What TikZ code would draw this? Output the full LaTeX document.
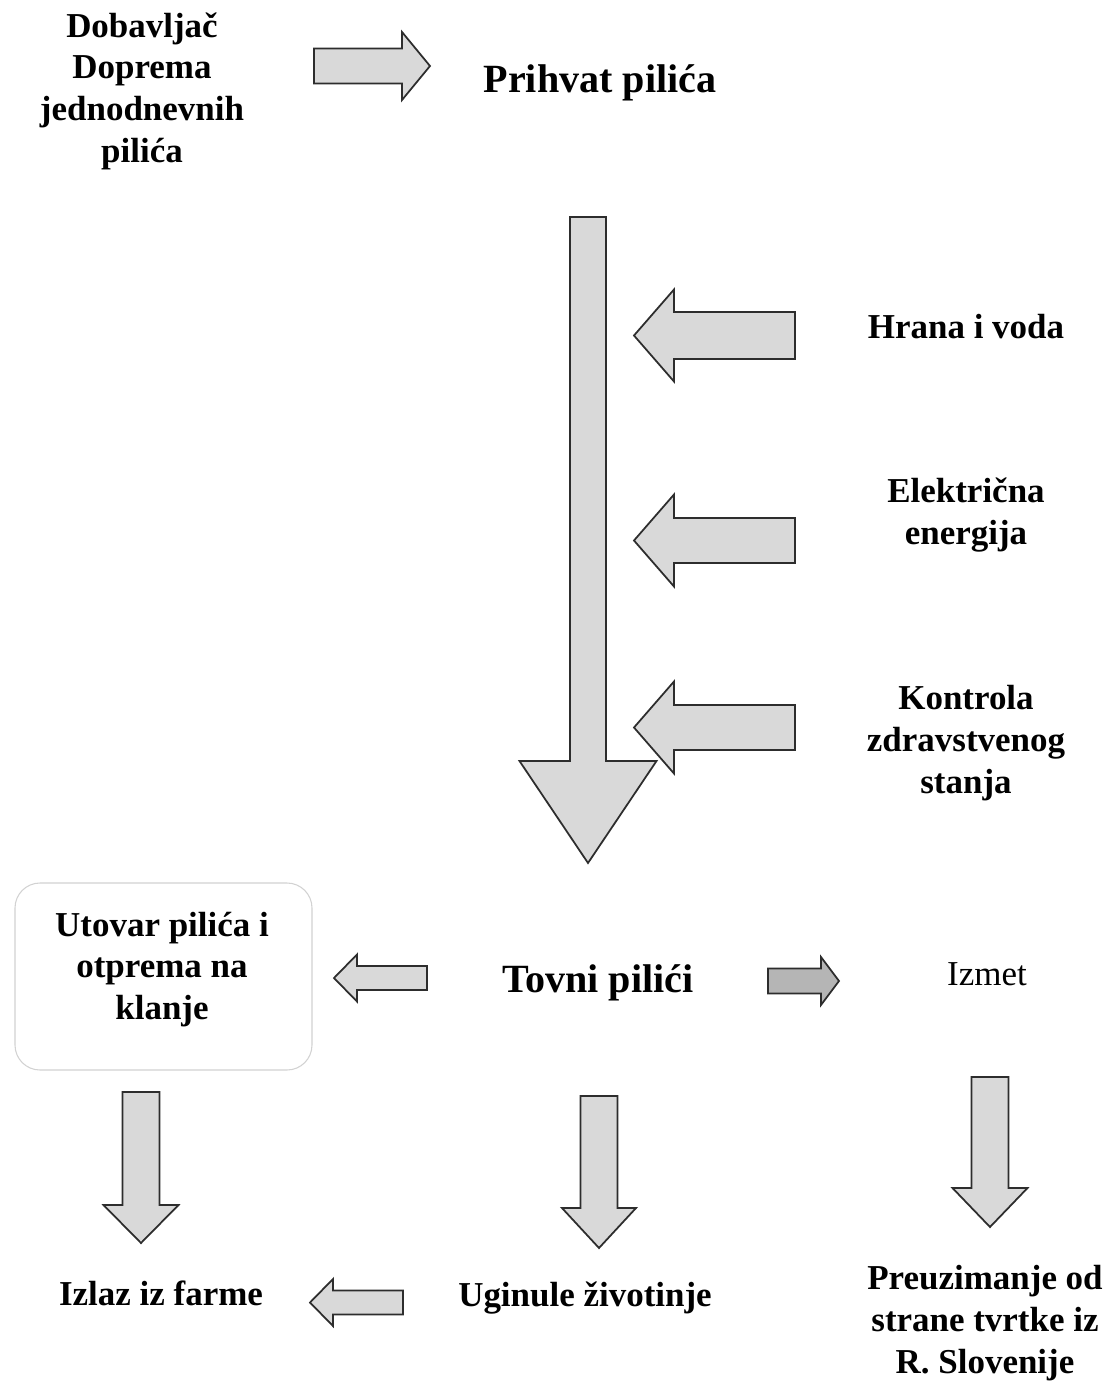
\documentclass[tikz,border=0pt]{standalone}
\usepackage{fontspec}
\setmainfont{Liberation Serif}
\usepackage{tikz}
\newcommand{\flowUnit}{0.02cm}
% block arrow: [style] tail, angle, length, shaft half width, head half width, head length
\newcommand{\blockArrow}[7][]{%
  \draw[blockArrow,#1,shift={#2},rotate=#3] (0,-#5) -- ({#4-#7},-#5) -- ({#4-#7},-#6) -- (#4,0)
     -- ({#4-#7},#6) -- ({#4-#7},#5) -- (0,#5) -- cycle;}
\tikzset{
  stepText/.style={font=\fontsize{19.9}{23.7}\selectfont\bfseries, align=center, inner sep=0pt},
  mainText/.style={font=\fontsize{22.8}{27}\selectfont\bfseries, align=center, inner sep=0pt},
  plainText/.style={font=\fontsize{19.9}{23.7}\selectfont, align=center, inner sep=0pt},
  blockArrow/.style={fill=gray!30, draw=gray!35!black, line width=1pt, line join=miter},
  darkArrow/.style={fill=gray!58},
  roundBox/.style={draw=gray!35, line width=0.6pt, rounded corners=0.5cm},
}
\begin{document}
\begin{tikzpicture}[x=\flowUnit, y=-\flowUnit]
\useasboundingbox[fill=white] (0,0) rectangle (1112,1383);

% top row
\node[stepText] (supplier) at (142,91) {Dobavljač\\Doprema\\jednodnevnih\\pilića};
\node[mainText] (reception) at (600,83) {Prihvat pilića};
\blockArrow{(314,66)}{0}{116}{17.5}{34}{28}

% rearing period and inputs
\blockArrow{(588,217)}{-90}{646}{18}{68.5}{102}
\node[stepText] (feed) at (966,327) {Hrana i voda};
\node[stepText] (power) at (966,515) {Električna\\energija};
\node[stepText] (health) at (966,743) {Kontrola\\zdravstvenog\\stanja};
\blockArrow{(795,335.5)}{180}{161}{23.5}{46}{40}
\blockArrow{(795,540.5)}{180}{161}{22.5}{46}{40}
\blockArrow{(795,727.5)}{180}{161}{22.5}{46}{40}

% outputs
\node[mainText] (broilers) at (598,983) {Tovni pilići};
\draw[roundBox] (15,883) rectangle (312,1070);
\node[stepText] (loading) at (162,969.5) {Utovar pilića i\\otprema na\\klanje};
\node[plainText] (manure) at (987,974) {Izmet};
\blockArrow{(427,978)}{180}{93}{12}{23.5}{23}
\blockArrow[darkArrow]{(768,981)}{0}{71}{12.5}{24}{18}

% bottom row
\blockArrow{(141,1092)}{-90}{151}{18.5}{37.5}{38}
\blockArrow{(599,1096)}{-90}{152}{18.5}{37}{40}
\blockArrow{(990,1077)}{-90}{150}{18.5}{37.5}{39}
\node[stepText] (exit) at (161,1293) {Izlaz iz farme};
\node[stepText] (dead) at (585,1298) {Uginule životinje};
\node[stepText] (pickup) at (985,1323) {Preuzimanje od\\strane tvrtke iz\\R. Slovenije};
\blockArrow{(403,1302.5)}{180}{93}{12}{23.5}{23}
\end{tikzpicture}
\end{document}
